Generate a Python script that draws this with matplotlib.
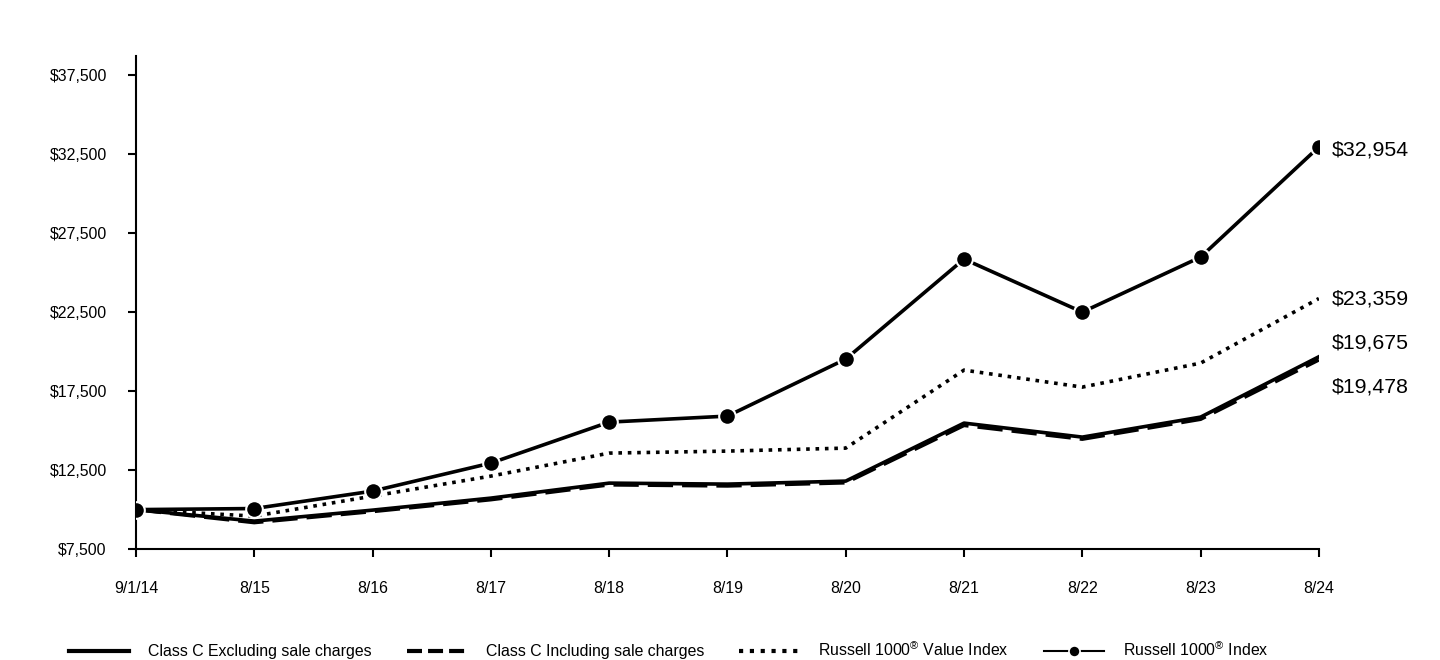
import matplotlib
matplotlib.use("Agg")
import matplotlib.pyplot as plt
from matplotlib.lines import Line2D
from matplotlib.ticker import FuncFormatter

plt.rcParams['font.family'] = ['Liberation Sans', 'DejaVu Sans']
plt.rcParams['mathtext.fontset'] = 'custom'
plt.rcParams['mathtext.rm'] = 'Liberation Sans'
plt.rcParams['mathtext.it'] = 'Liberation Sans'

# data
dates = ["9/1/14", "8/15", "8/16", "8/17", "8/18", "8/19", "8/20", "8/21", "8/22", "8/23", "8/24"]
class_c_excl = [10000, 9272, 9968, 10728, 11677, 11614, 11804, 15475, 14589, 15855, 19675]
class_c_incl = [10000, 9180, 9880, 10630, 11570, 11500, 11700, 15330, 14460, 15720, 19478]
value_index = [10000, 9588, 10854, 12120, 13576, 13703, 13892, 18829, 17753, 19272, 23359]
russell_1000 = [10000, 10068, 11171, 12943, 15538, 15918, 19525, 25854, 22500, 25981, 32954]
yticks = [7500, 12500, 17500, 22500, 27500, 32500, 37500]

fig = plt.figure(figsize=(14.4, 6.6), dpi=100)
ax = fig.add_axes([0.0944, 0.168, 0.8215, 0.747])
x = list(range(len(dates)))

ax.plot(x, class_c_excl, color='black', lw=2.6, zorder=3)
ax.plot(x, class_c_incl, color='black', lw=2.6, linestyle=(0, (7, 2.5)), zorder=3)
ax.plot(x, value_index, color='black', lw=2.6, linestyle=(0, (1, 1.6)), zorder=3)
ax.plot(x, russell_1000, color='black', lw=2.6, marker='o', markersize=12,
        markerfacecolor='black', markeredgecolor='white', markeredgewidth=1.5, zorder=4)

ax.set_xlim(0, len(dates) - 1)
ax.set_ylim(7500, 38700)
ax.set_xticks(x)
ax.set_xticklabels(dates)
ax.set_yticks(yticks)
ax.yaxis.set_major_formatter(FuncFormatter(lambda v, p: "${:,.0f}".format(v)))
ax.tick_params(axis='both', labelsize=11.4, length=6, width=1.5, color='black')
ax.tick_params(axis='x', pad=17)
ax.tick_params(axis='y', pad=15)
for s in ['top', 'right']:
    ax.spines[s].set_visible(False)
for s in ['left', 'bottom']:
    ax.spines[s].set_linewidth(1.5)

# end value labels (label heights nudged so they do not overlap)
ends = [(russell_1000[-1], 32750), (value_index[-1], 23300),
        (class_c_excl[-1], 20550), (class_c_incl[-1], 17750)]
for val, ypos in ends:
    ax.annotate("${:,.0f}".format(val), xy=(len(dates) - 1, ypos), xytext=(9, 0),
                textcoords='offset points', va='center', ha='left', fontsize=15.3,
                annotation_clip=False)

handles = [
    Line2D([], [], color='black', lw=3),
    Line2D([], [], color='black', lw=3, linestyle=(0, (3.6, 1.45))),
    Line2D([], [], color='black', lw=3, linestyle=(0, (1, 1.6))),
    Line2D([], [], color='black', lw=1.5, marker='o', markersize=8,
           markerfacecolor='black', markeredgecolor='white', markeredgewidth=1.2),
]
labels = ["Class C Excluding sale charges", "Class C Including sale charges",
          "Russell 1000$^{®}$ Value Index", "Russell 1000$^{®}$ Index"]
fig.legend(handles, labels, loc='center', bbox_to_anchor=(0.4646, 0.015), ncol=4,
           frameon=False, fontsize=11.4, handlelength=3.8, handletextpad=1.2,
           columnspacing=2.2)

fig.savefig("out.png", dpi=100, facecolor='white')
